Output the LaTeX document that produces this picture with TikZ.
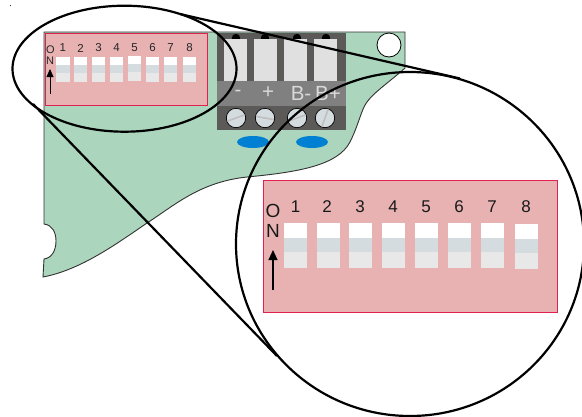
\documentclass[tikz,border=0pt]{standalone}
\usepackage{fontspec}
\setmainfont{Liberation Sans}
\usetikzlibrary{arrows.meta}
\definecolor{boardgreen}{HTML}{ABD5BC}
\definecolor{dippink}{HTML}{E8B2B3}
\definecolor{dipred}{HTML}{E0204F}
\definecolor{blockdark}{HTML}{5B5A58}
\definecolor{blockmid}{HTML}{808080}
\definecolor{slotgrey}{HTML}{E0E0E0}
\definecolor{bandgrey}{HTML}{D5DCE0}
\definecolor{ledblue}{HTML}{0080D2}
\tikzset{
    dip/.style={fill=dippink,draw=dipred,line width=1pt},
    lens/.style={line width=2.2pt},
    smalldigit/.style={font=\fontsize{11.5}{13}\selectfont,text=black!85,inner sep=0pt},
    bigdigit/.style={font=\fontsize{17}{20}\selectfont,text=black!90,inner sep=0pt},
    smallon/.style={font=\fontsize{11}{13}\selectfont,text=black!85,inner sep=0pt},
    bigon/.style={font=\fontsize{19}{22}\selectfont,text=black!90,inner sep=0pt},
    termlabel/.style={font=\fontsize{20.5}{24}\selectfont,text=black!15,inner sep=0pt}
}
\begin{document}
\begin{tikzpicture}[x=1pt,y=-1pt]
    \useasboundingbox (0,0) rectangle (582,416);
    \fill (10.5,5.5) circle[radius=0.5];
    \draw[fill=boardgreen,draw=black!80,line width=0.9pt] (44,32) -- (405,32) -- (405,68)
        .. controls (392,80) and (374,92) .. (367,102)
        .. controls (361,110) and (359,124) .. (350,142)
        .. controls (338,165) and (300,172) .. (247,177)
        .. controls (200,182) and (175,205) .. (147,223)
        .. controls (115,245) and (80,270) .. (43,277)
        -- (44,259) .. controls (52,258) and (56,250) .. (56,241)
        .. controls (56,232) and (52,225) .. (44,224) -- cycle;
    \fill[blockdark] (217,33) rectangle (346,130);
    \fill[blockmid] (217,81) rectangle (346,106);
    \foreach \x in {236,265,297,326}
        \fill (\x,38) circle[radius=4.2];
    \foreach \x in {224,254,284,314}
        \fill[slotgrey] (\x,39) rectangle ++(23,42);
    \foreach \x/\a in {236/20,265/-10,297/-160,325/70}{
        \draw[fill=bandgrey,draw=black,line width=0.7pt] (\x,118) circle[radius=9.7];
        \draw[black!25,line width=1.6pt] ({\x+9*cos(\a)},{118-9*sin(\a)}) -- ({\x-9*cos(\a)},{118+9*sin(\a)});
    }
    \node[termlabel] (minus) at (238,93) {-};
    \node[termlabel] (plus) at (268,93) {+};
    \node[termlabel] (bminus) at (301,93) {B-};
    \node[termlabel] (bplus) at (328,93) {B+};
    \fill[ledblue] (253,142) ellipse[x radius=16,y radius=6];
    \fill[ledblue] (312,142) ellipse[x radius=16,y radius=6];
    \draw[fill=white,line width=0.8pt] (389,45) circle[radius=12];
    \draw[dip] (45,33) rectangle (207,105);
    \foreach \x/\y/\n in {56.3/57/1,74/57/2,92/57/3,110/57/4,128/56/5,146/57/6,164/57/7,183/57/8}{
        \fill[white] (\x,\y) rectangle ++(13.3,25);
        \fill[bandgrey] (\x,\y+8) rectangle ++(13.3,8);
        \fill[black!9] (\x,\y+16) rectangle ++(13.3,9);
        \node[smalldigit] at (\x+6.5,48) {\n};
    }
    \node[smallon] (smallo) at (50.5,50) {O};
    \node[smallon] (smalln) at (50,61) {N};
    \coordinate (smalltail) at (50,94);
    \coordinate (smalltip) at (50,69);
    \draw[-{Triangle[length=8pt,width=7pt]},line width=0.8pt] (smalltail) -- (smalltip);
    \draw[dip] (263.5,180) rectangle (557,312);
    \foreach \x/\y/\n/\lx in {284.3/223/1/295.7,317/223/2/327,349/223/3/360,382.3/223/4/393,415/223/5/426,448/223/6/459,481/223/7/492,514.7/224/8/526}{
        \fill[white] (\x,\y) rectangle ++(23,45);
        \fill[bandgrey] (\x,\y+15) rectangle ++(23,14);
        \fill[black!9] (\x,\y+29) rectangle ++(23,16);
        \node[bigdigit] at (\lx,207) {\n};
    }
    \node[bigon] (bigo) at (273,211) {O};
    \node[bigon] (bign) at (273,231) {N};
    \coordinate (bigtail) at (273,290);
    \coordinate (bigtip) at (273,250);
    \draw[-{Triangle[length=10pt,width=9pt]},line width=1.1pt] (bigtail) -- (bigtip);
    \draw[lens] (124.5,68.7) ellipse[x radius=112,y radius=63];
    \draw[lens] (410,244) ellipse[x radius=174,y radius=172];
    \coordinate (upperstart) at (180,14);
    \coordinate (upperend) at (460,78.5);
    \coordinate (lowerstart) at (33,104);
    \coordinate (lowerend) at (277,356);
    \draw[lens] (upperstart) -- (upperend);
    \draw[lens] (lowerstart) -- (lowerend);
\end{tikzpicture}
\end{document}
